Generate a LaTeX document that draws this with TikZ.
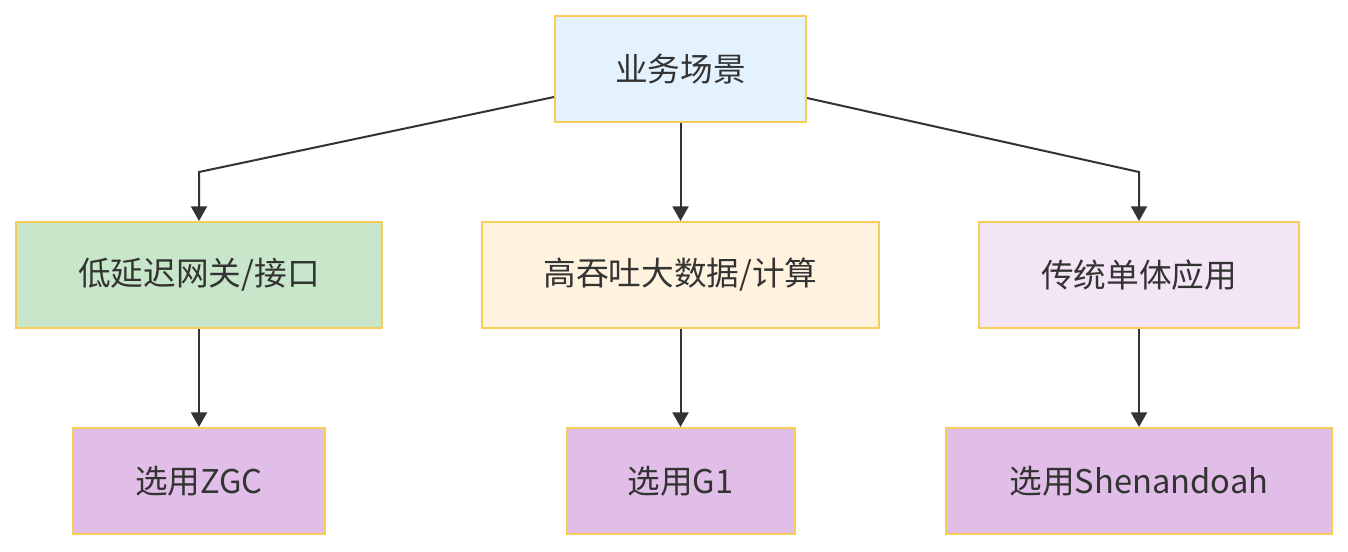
\documentclass[tikz,border=0pt]{standalone}
\usepackage{fontspec}
\newfontfamily\cjk{Noto Sans CJK SC}
\usetikzlibrary{arrows.meta,calc}
\definecolor{bordery}{HTML}{F7CD5A}
\definecolor{txt}{HTML}{333333}
\definecolor{cblue}{HTML}{E3F2FD}
\definecolor{cgreen}{HTML}{C8E6C9}
\definecolor{corange}{HTML}{FFF3E0}
\definecolor{clav}{HTML}{F3E5F5}
\definecolor{cpurple}{HTML}{E1BEE7}
\definecolor{lnc}{HTML}{333333}
\begin{document}
\begin{tikzpicture}[x=0.75pt,y=-0.75pt,
  box/.style={draw=bordery,line width=1.5pt,minimum height=79.5pt,inner sep=0pt,
    font=\cjk\fontsize{24.5pt}{28pt}\selectfont,text=txt},
  conn/.style={draw=lnc,line width=1.5pt,-{Triangle[width=12pt,length=11pt]}}]
\useasboundingbox (0,0) rectangle (1348,552);
\node[box,fill=cblue,minimum width=188.25pt] (top) at (680.5,69) {业务场景};
\node[box,fill=cgreen,minimum width=274.5pt] (l) at (199,275) {低延迟网关/接口};
\node[box,fill=corange,minimum width=297.75pt] (m) at (680.5,275) {高吞吐大数据/计算};
\node[box,fill=clav,minimum width=240pt] (r) at (1139,275) {传统单体应用};
\node[box,fill=cpurple,minimum width=189pt] (bl) at (199,481) {选用ZGC};
\node[box,fill=cpurple,minimum width=171pt] (bm) at (680.5,481) {选用G1};
\node[box,fill=cpurple,minimum width=289.5pt] (br) at (1139,481) {选用Shenandoah};
\coordinate (kl) at (199,172);
\coordinate (kr) at (1139,172);
\draw[conn] ([yshift=-21pt]top.west) -- (kl) -- (l.north);
\draw[conn] ([yshift=-21.75pt]top.east) -- (kr) -- (r.north);
\draw[conn] (top.south) -- (m.north);
\draw[conn] (l.south) -- (bl.north);
\draw[conn] (m.south) -- (bm.north);
\draw[conn] (r.south) -- (br.north);
\end{tikzpicture}
\end{document}
